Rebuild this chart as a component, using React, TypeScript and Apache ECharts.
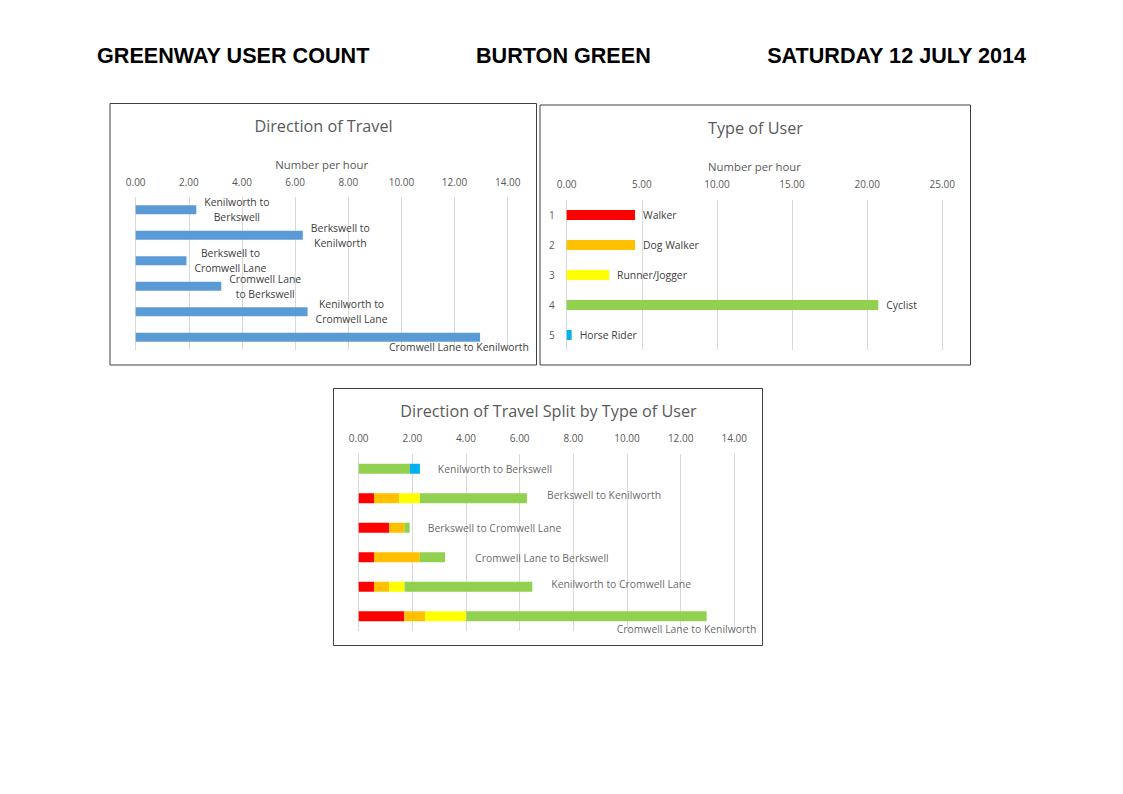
import React, { useEffect, useRef } from "react";
import * as echarts from "echarts";

// ---------- DATA ----------
const headerTexts = ["GREENWAY USER COUNT", "BURTON GREEN", "SATURDAY 12 JULY 2014"];
const chartTitles = ["Direction of Travel", "Type of User", "Direction of Travel Split by Type of User"];
const axisName = "Number per hour";

const dirCategories = [
  "Kenilworth to Berkswell",
  "Berkswell to Kenilworth",
  "Berkswell to Cromwell Lane",
  "Cromwell Lane to Berkswell",
  "Kenilworth to Cromwell Lane",
  "Cromwell Lane to Kenilworth",
];
const dirValues = [2.28, 6.29, 1.91, 3.22, 6.47, 12.96];
const dirLabelLines = [
  ["Kenilworth to", "Berkswell"],
  ["Berkswell to", "Kenilworth"],
  ["Berkswell to", "Cromwell Lane"],
  ["Cromwell Lane", "to Berkswell"],
  ["Kenilworth to", "Cromwell Lane"],
  ["Cromwell Lane to Kenilworth"],
];

const userIndex = ["1", "2", "3", "4", "5"];
const userTypes = ["Walker", "Dog Walker", "Runner/Jogger", "Cyclist", "Horse Rider"];
const userValues = [4.55, 4.55, 2.82, 20.74, 0.33];
const userColors = ["#ff0000", "#ffc000", "#ffff00", "#92d050", "#00b0f0"];

const walkerSplit = [0, 0.57, 1.14, 0.57, 0.57, 1.7];
const dogWalkerSplit = [0, 0.94, 0.56, 1.71, 0.57, 0.78];
const runnerSplit = [0, 0.77, 0, 0, 0.57, 1.53];
const cyclistSplit = [1.91, 3.99, 0.2, 0.94, 4.76, 8.96];
const horseSplit = [0.37, 0, 0, 0, 0, 0];
const splitSeries = [walkerSplit, dogWalkerSplit, runnerSplit, cyclistSplit, horseSplit];

// label placement tweaks (positions, not data)
const splitLabelOffsets = [
  [18, 0],
  [20, -3],
  [18, 0],
  [30, 1],
  [19, -3],
  [-90, 13],
];

const FONT = "'Open Sans', 'Noto Sans', sans-serif";
const GRAY = "#595959";
const LABEL = "#404040";
const GRID = "#d9d9d9";
const LABEL_SIZE = 10.4;

function valueAxis(gridIndex: number, max: number, interval: number, margin: number, name?: string, nameGap?: number) {
  return {
    type: "value",
    gridIndex,
    position: "top",
    min: 0,
    max,
    interval,
    name: name || "",
    nameLocation: "middle",
    nameGap: nameGap || 0,
    nameTextStyle: { color: GRAY, fontSize: 11.3, fontFamily: FONT },
    axisLine: { show: false },
    axisTick: { show: false },
    axisLabel: {
      color: GRAY,
      fontSize: 10,
      fontFamily: FONT,
      margin,
      formatter: (v: number) => v.toFixed(2),
    },
    splitLine: { show: true, lineStyle: { color: GRID, width: 1 } },
  };
}

export default function App() {
  const ref = useRef<HTMLDivElement>(null);

  useEffect(() => {
    if (!ref.current) return;
    const chart = echarts.init(ref.current, null, { renderer: "svg" });

    const splitTotals = dirCategories.map((_, i) =>
      splitSeries.reduce((s, arr) => s + arr[i], 0)
    );

    const headerStyle = {
      fontSize: 21.6,
      fontWeight: "bold",
      fontFamily: "'Liberation Sans', Arial, sans-serif",
      fill: "#000",
      textVerticalAlign: "middle",
    };
    const titleStyle = {
      fontSize: 16.2,
      fontFamily: FONT,
      fill: GRAY,
      textAlign: "center",
      textVerticalAlign: "middle",
    };
    const border = { fill: "none", stroke: "#404040", lineWidth: 1 };

    const option: any = {
      animation: false,
      backgroundColor: "#ffffff",
      grid: [
        { left: 135.7, top: 197, width: 372, height: 153 },
        { left: 566.7, top: 200, width: 375.6, height: 150 },
        { left: 358.7, top: 454, width: 375.6, height: 177 },
      ],
      xAxis: [
        valueAxis(0, 14, 2, 10, axisName, 27),
        valueAxis(1, 25, 5, 11, axisName, 28),
        valueAxis(2, 14, 2, 11),
      ],
      yAxis: [
        {
          type: "category",
          gridIndex: 0,
          inverse: true,
          data: dirCategories,
          axisLine: { show: false },
          axisTick: { show: false },
          axisLabel: { show: false },
        },
        {
          type: "category",
          gridIndex: 1,
          inverse: true,
          data: userIndex,
          axisLine: { show: false },
          axisTick: { show: false },
          axisLabel: { color: GRAY, fontSize: 10, fontFamily: FONT, margin: 12 },
        },
        {
          type: "category",
          gridIndex: 2,
          inverse: true,
          data: dirCategories,
          axisLine: { show: false },
          axisTick: { show: false },
          axisLabel: { show: false },
        },
      ],
      series: [
        {
          type: "bar",
          xAxisIndex: 0,
          yAxisIndex: 0,
          barWidth: 9,
          itemStyle: { color: "#5b9bd5" },
          data: dirValues.map((v, i) =>
            i === dirValues.length - 1
              ? { value: v, label: { offset: [-99, 10] } }
              : { value: v }
          ),
          label: {
            show: true,
            position: "right",
            distance: 8,
            formatter: (p: any) =>
              dirLabelLines[p.dataIndex].map((l) => `{c|${l}}`).join("\n"),
            rich: {
              c: { align: "center", color: LABEL, fontSize: LABEL_SIZE, fontFamily: FONT, lineHeight: 15 },
            },
          },
        },
        {
          type: "bar",
          xAxisIndex: 1,
          yAxisIndex: 1,
          barWidth: 10,
          data: userValues.map((v, i) => ({ value: v, itemStyle: { color: userColors[i] } })),
          label: {
            show: true,
            position: "right",
            distance: 8,
            color: LABEL,
            fontSize: LABEL_SIZE,
            fontFamily: FONT,
            formatter: (p: any) => userTypes[p.dataIndex],
          },
        },
        ...splitSeries.map((arr, k) => ({
          type: "bar",
          name: userTypes[k],
          xAxisIndex: 2,
          yAxisIndex: 2,
          stack: "split",
          barWidth: 10,
          itemStyle: { color: userColors[k] },
          data: arr,
        })),
        {
          type: "scatter",
          xAxisIndex: 2,
          yAxisIndex: 2,
          symbolSize: 0,
          silent: true,
          data: splitTotals.map((t, i) => ({
            value: [t, dirCategories[i]],
            label: { offset: splitLabelOffsets[i] },
          })),
          label: {
            show: true,
            position: "right",
            distance: 0,
            color: LABEL,
            fontSize: LABEL_SIZE,
            fontFamily: FONT,
            formatter: (p: any) => dirCategories[p.dataIndex],
          },
        },
      ],
      graphic: [
        { type: "text", x: 97, y: 55, style: { ...headerStyle, text: headerTexts[0], textAlign: "left" } },
        { type: "text", x: 476, y: 55, style: { ...headerStyle, text: headerTexts[1], textAlign: "left" } },
        { type: "text", x: 1026, y: 55, style: { ...headerStyle, text: headerTexts[2], textAlign: "right" } },
        { type: "rect", shape: { x: 110, y: 103.5, width: 426.5, height: 261.5 }, style: border },
        { type: "rect", shape: { x: 540, y: 105, width: 430.5, height: 260 }, style: border },
        { type: "rect", shape: { x: 333.5, y: 388.5, width: 429, height: 257 }, style: border },
        { type: "text", x: 323.5, y: 126, style: { ...titleStyle, text: chartTitles[0] } },
        { type: "text", x: 755.5, y: 128, style: { ...titleStyle, text: chartTitles[1] } },
        { type: "text", x: 548.5, y: 411, style: { ...titleStyle, text: chartTitles[2] } },
      ],
    };

    chart.setOption(option);
    return () => chart.dispose();
  }, []);

  return (
    <div
      ref={ref}
      style={{ position: "absolute", left: 0, top: 0, width: 1123, height: 794, background: "#fff" }}
    />
  );
}
